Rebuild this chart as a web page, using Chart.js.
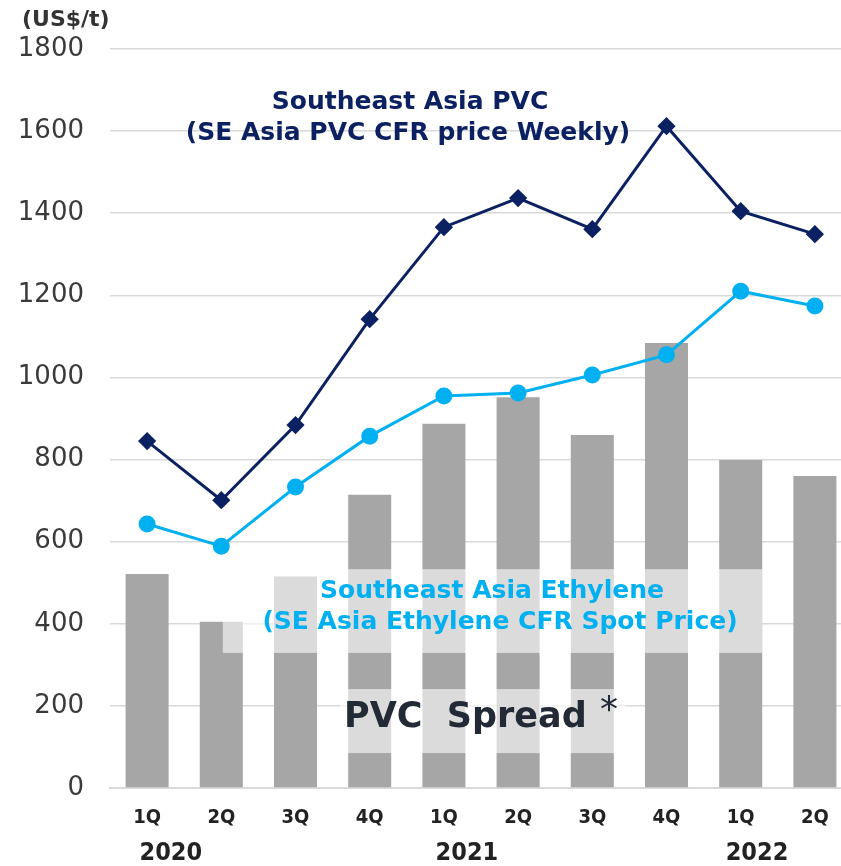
<!DOCTYPE html>
<html>
<head>
<meta charset="utf-8">
<script src="https://cdn.jsdelivr.net/npm/chart.js@4"></script>
<style>
  html, body { margin: 0; padding: 0; background: #fff; overflow: hidden; }
  #wrap { width: 862px; height: 866px; position: relative; }
</style>
</head>
<body>
<div id="wrap"><canvas id="spreadChart" width="862" height="866"></canvas></div>
<script>
// quarters on the x axis, years drawn underneath
const quarters = ["1Q", "2Q", "3Q", "4Q", "1Q", "2Q", "3Q", "4Q", "1Q", "2Q"];
const years = ["2020", "2021", "2022"];
const yearPos = [0.32, 4.31, 8.22]; // category index under which each year sits

// values (US$/t)
const pvcSpread = [521, 405, 515, 714, 887, 952, 860, 1084, 799, 760];
const pvcPrice = [845, 701, 884, 1142, 1366, 1437, 1361, 1612, 1405, 1349];
const ethylenePrice = [643, 589, 733, 857, 955, 962, 1006, 1055, 1210, 1174];

const yTicks = [0, 200, 400, 600, 800, 1000, 1200, 1400, 1600, 1800];

const NAVY = "#0c2162";
const CYAN = "#00b0f0";
const BAR = "#a6a6a6";

// text panels: white veil boxes plus the labels
const labelPlugin = {
  id: "labels",
  afterDatasetsDraw(chart) {
    const { ctx, scales: { x, y } } = chart;
    const xp = (v) => x.getPixelForValue(0) + (x.getPixelForValue(1) - x.getPixelForValue(0)) * v;
    ctx.save();

    // veil boxes behind the captions
    ctx.fillStyle = "rgba(255,255,255,0.6)";
    ctx.fillRect(xp(1.02), y.getPixelForValue(533), xp(8.29) - xp(1.02), y.getPixelForValue(329) - y.getPixelForValue(533));
    ctx.fillRect(xp(2.6), y.getPixelForValue(241), xp(6.45) - xp(2.6), y.getPixelForValue(85) - y.getPixelForValue(241));

    ctx.textAlign = "center";
    ctx.textBaseline = "middle";

    ctx.fillStyle = NAVY;
    ctx.font = "bold 25px 'DejaVu Sans'";
    ctx.fillText("Southeast Asia PVC", 410, 102);
    ctx.fillText("(SE Asia PVC CFR price Weekly)", 408, 133);

    ctx.fillStyle = CYAN;
    ctx.fillText("Southeast Asia Ethylene", 492, 591);
    ctx.fillText("(SE Asia Ethylene CFR Spot Price)", 500, 622);

    ctx.fillStyle = "#222a35";
    ctx.textAlign = "left";
    ctx.font = "bold 35px 'DejaVu Sans'";
    ctx.fillText("PVC  Spread", 344, 718);
    ctx.font = "36px 'DejaVu Sans'";
    ctx.fillText("*", 600, 712);

    // unit label
    ctx.fillStyle = "#333";
    ctx.font = "bold 22px 'DejaVu Sans'";
    ctx.fillText("(US$/t)", 22, 20);

    // years under the quarter labels
    ctx.textAlign = "center";
    ctx.fillStyle = "#222";
    ctx.font = "bold 25px 'DejaVu Sans Condensed', 'DejaVu Sans'";
    years.forEach((yr, i) => ctx.fillText(yr, xp(yearPos[i]), 853));

    ctx.restore();
  },
};

const ctx = document.getElementById("spreadChart").getContext("2d");
new Chart(ctx, {
  type: "bar",
  data: {
    labels: quarters,
    datasets: [
      {
        type: "line",
        label: "Southeast Asia PVC",
        data: pvcPrice,
        borderColor: NAVY,
        backgroundColor: NAVY,
        borderWidth: 3,
        pointStyle: "rectRot",
        pointRadius: 7,
        pointHoverRadius: 7,
        order: 0,
      },
      {
        type: "line",
        label: "Southeast Asia Ethylene",
        data: ethylenePrice,
        borderColor: CYAN,
        backgroundColor: CYAN,
        borderWidth: 3,
        pointStyle: "circle",
        pointRadius: 7,
        pointHoverRadius: 7,
        order: 0,
      },
      {
        label: "PVC Spread",
        data: pvcSpread,
        backgroundColor: BAR,
        borderWidth: 0,
        barPercentage: 0.58,
        categoryPercentage: 1.0,
        order: 1,
      },
    ],
  },
  options: {
    responsive: false,
    animation: false,
    layout: { padding: { top: 49, right: 1, bottom: 18, left: 0 } },
    plugins: {
      legend: { display: false },
      tooltip: { enabled: false },
    },
    scales: {
      x: {
        grid: { display: false, drawTicks: false },
        border: { color: "#d9d9d9", width: 2 },
        ticks: {
          color: "#222",
          padding: 18,
          font: { family: "'DejaVu Sans Condensed', 'DejaVu Sans'", size: 20, weight: "bold" },
        },
      },
      y: {
        min: 0,
        max: 1800,
        afterBuildTicks(axis) {
          axis.ticks = yTicks.map((v) => ({ value: v }));
        },
        afterFit(axis) {
          axis.width = 110;
        },
        grid: { color: "#d9d9d9", lineWidth: 1.5, drawTicks: false },
        border: { display: false },
        ticks: {
          color: "#3a3a3a",
          padding: 26,
          font: { family: "'DejaVu Sans'", size: 26 },
          callback: (v) => String(v),
        },
      },
    },
  },
  plugins: [labelPlugin],
});
</script>
</body>
</html>
